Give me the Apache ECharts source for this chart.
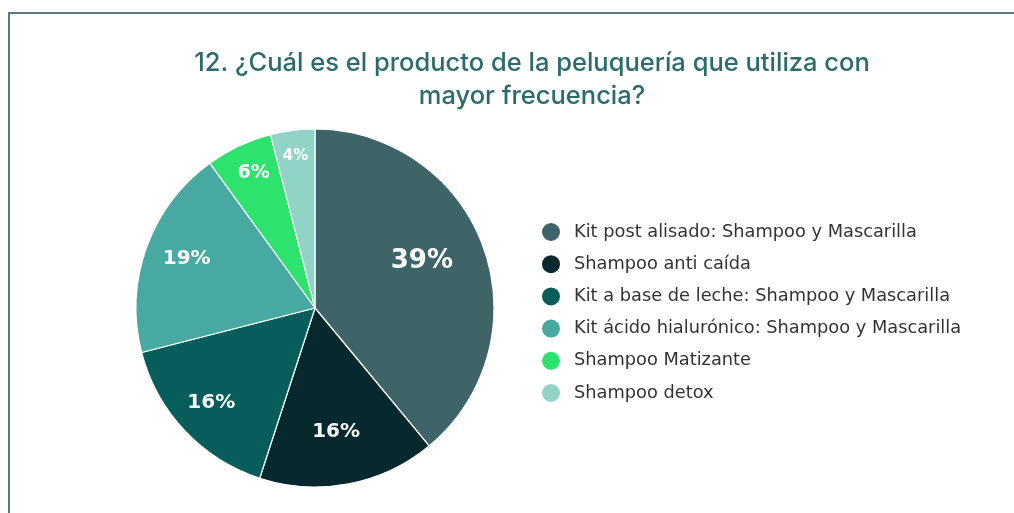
<!DOCTYPE html>
<html><head><meta charset="utf-8">
<script src="https://cdn.jsdelivr.net/npm/echarts@6/dist/echarts.min.js"></script>
<style>html,body{margin:0;padding:0;background:#fff}#c{width:1014px;height:513px}</style>
</head><body><div id="c"></div>
<script>
const titleText = "12. ¿Cuál es el producto de la peluquería que utiliza con\nmayor frecuencia?";
const categories = [
  "Kit post alisado: Shampoo y Mascarilla",
  "Shampoo anti caída",
  "Kit a base de leche: Shampoo y Mascarilla",
  "Kit ácido hialurónico: Shampoo y Mascarilla",
  "Shampoo Matizante",
  "Shampoo detox"
];
const values = [39, 16, 16, 19, 6, 4];
const colors = ["#3e6468", "#07292e", "#075d59", "#48a9a0", "#2ee36d", "#92d3c8"];
// styling only: label radial position (fraction of radius), angular nudge (deg), font size
const labelRadius = [0.64, 0.675, 0.76, 0.755, 0.82, 0.85];
const labelAngleShift = [-5, 1, 1.5, 2, 1, 0];
const labelSize = [26, 20, 20, 20, 19, 15];
const labelDy = 2;

const R = 179, CX = 315, CY = 308;
const total = values.reduce((a, b) => a + b, 0);
let cum = 0;
const data = values.map((v, i) => {
  const midDeg = (cum + v / 2) / total * 360;
  cum += v;
  const mid = (midDeg + labelAngleShift[i]) * Math.PI / 180;
  const base = 0.5 * R, d = labelRadius[i] * R;
  const mid0 = midDeg * Math.PI / 180;
  return {
    name: categories[i], value: v,
    itemStyle: { color: colors[i] },
    label: {
      fontSize: labelSize[i],
      offset: [d * Math.sin(mid) - base * Math.sin(mid0), -d * Math.cos(mid) + base * Math.cos(mid0) + labelDy]
    }
  };
});

const chart = echarts.init(document.getElementById('c'));
chart.setOption({
  backgroundColor: '#ffffff',
  animation: false,
  graphic: [{
    type: 'rect', shape: { x: 9, y: 13, width: 1200, height: 700 },
    style: { fill: 'none', stroke: '#587a80', lineWidth: 2 }, silent: true
  }],
  title: {
    text: titleText, left: 527, textAlign: 'center', top: 42,
    textStyle: { fontFamily: 'Inter', fontWeight: 500, fontSize: 25.5, color: '#2b6c6a', lineHeight: 33 }
  },
  legend: {
    orient: 'vertical', left: 535, top: 216,
    icon: 'circle', itemWidth: 20, itemHeight: 20, itemGap: 10.2,
    textStyle: { fontFamily: 'DejaVu Sans', fontSize: 17.8, color: '#333333', lineHeight: 20, padding: [0, 0, 0, 8] },
    data: categories
  },
  series: [{
    type: 'pie', center: [CX, CY], radius: [0, R], startAngle: 90, clockwise: true,
    itemStyle: { borderColor: '#ffffff', borderWidth: 1.2 },
    label: {
      show: true, position: 'inside', formatter: '{c}%', color: '#ffffff',
      fontFamily: 'DejaVu Sans', fontWeight: 700
    },
    labelLine: { show: false },
    emphasis: { disabled: true },
    data: data
  }]
});
</script></body></html>
